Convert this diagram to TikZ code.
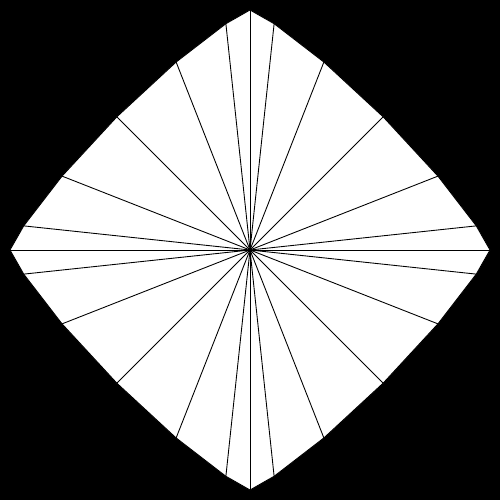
\documentclass[tikz,border=0pt]{standalone}
\begin{document}
\begin{tikzpicture}[ray/.style={black,line width=0.5pt},outline/.style={fill=white,draw=black,line width=0.5pt}]
\fill[black] (-5,-5) rectangle (5,5);
\useasboundingbox (-5,-5) rectangle (5,5);
\coordinate (c) at (0,0);
\foreach \i/\x/\y in {0/4.8/0, 1/4.5253/0.4824, 2/3.7587/1.4774, 3/2.6630/2.6630, 4/1.4774/3.7587, 5/0.4824/4.5253,
 6/0/4.8, 7/-0.4824/4.5253, 8/-1.4774/3.7587, 9/-2.6630/2.6630, 10/-3.7587/1.4774, 11/-4.5253/0.4824,
 12/-4.8/0, 13/-4.5253/-0.4824, 14/-3.7587/-1.4774, 15/-2.6630/-2.6630, 16/-1.4774/-3.7587, 17/-0.4824/-4.5253,
 18/0/-4.8, 19/0.4824/-4.5253, 20/1.4774/-3.7587, 21/2.6630/-2.6630, 22/3.7587/-1.4774, 23/4.5253/-0.4824}
  \coordinate (p\i) at (\x,\y);
\path[outline] (p0) -- (p1) -- (p2) -- (p3) -- (p4) -- (p5) -- (p6) -- (p7) -- (p8) -- (p9) -- (p10) -- (p11)
 -- (p12) -- (p13) -- (p14) -- (p15) -- (p16) -- (p17) -- (p18) -- (p19) -- (p20) -- (p21) -- (p22) -- (p23) -- cycle;
\foreach \i in {0,...,23} \draw[ray] (c) -- (p\i);
\end{tikzpicture}
\end{document}
